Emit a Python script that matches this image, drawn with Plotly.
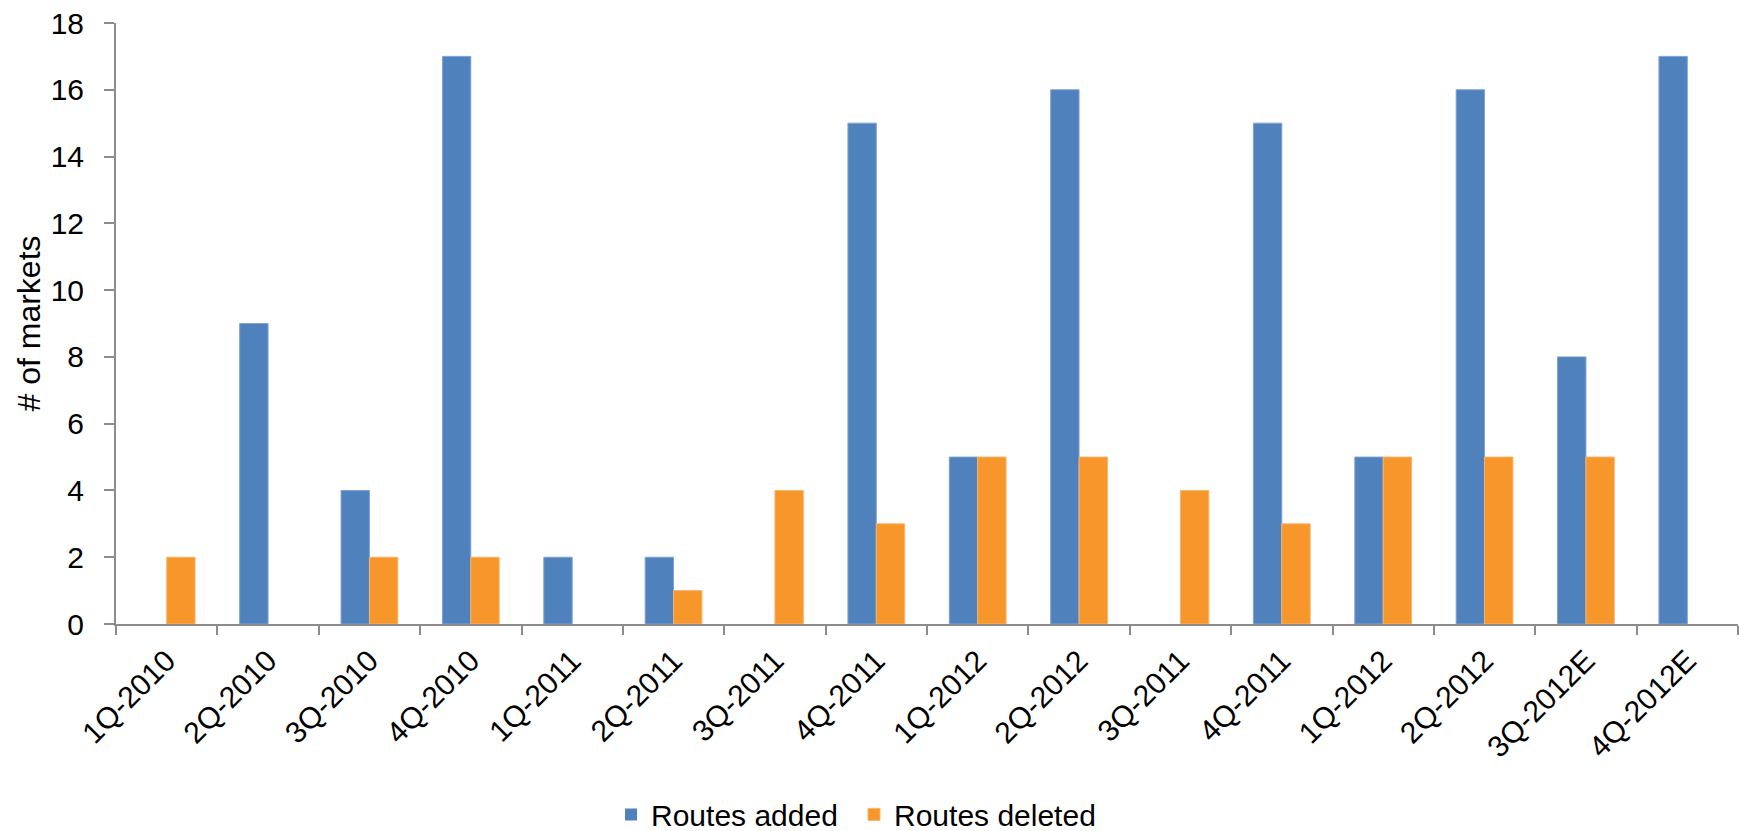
import plotly.graph_objects as go

categories = ["1Q-2010", "2Q-2010", "3Q-2010", "4Q-2010", "1Q-2011", "2Q-2011",
              "3Q-2011", "4Q-2011", "1Q-2012", "2Q-2012", "3Q-2011", "4Q-2011",
              "1Q-2012", "2Q-2012", "3Q-2012E", "4Q-2012E"]
routes_added = [0, 9, 4, 17, 2, 2, 0, 15, 5, 16, 0, 15, 5, 16, 8, 17]
routes_deleted = [2, 0, 2, 2, 0, 1, 4, 3, 5, 5, 4, 3, 5, 5, 5, 0]
y_ticks = [0, 2, 4, 6, 8, 10, 12, 14, 16, 18]

xpos = list(range(len(categories)))
boundaries = [i - 0.5 for i in range(len(categories) + 1)]

FONT = "Liberation Sans, Arial, sans-serif"
AXIS_COLOR = "#8c8c8c"


def edge_widths(vals):
    return [0 if v == 0 else 1 for v in vals]


fig = go.Figure()
fig.add_trace(go.Bar(x=xpos, y=routes_added, name="Routes added",
                     marker=dict(color="#4F81BD",
                                 line=dict(color="#7fa3d3", width=edge_widths(routes_added)))))
fig.add_trace(go.Bar(x=xpos, y=routes_deleted, name="Routes deleted",
                     marker=dict(color="#F7962B",
                                 line=dict(color="#f9b56a", width=edge_widths(routes_deleted)))))

fig.update_layout(
    width=1739, height=831,
    margin=dict(l=116, r=1, t=23, b=207, autoexpand=False),
    barmode="group", bargap=0.44, bargroupgap=0,
    plot_bgcolor="white", paper_bgcolor="white",
    font=dict(family=FONT, size=30, color="#000000"),
    showlegend=True,
    legend=dict(orientation="h", x=0.455, xanchor="center", xref="paper",
                y=0.02, yanchor="middle", yref="container", font=dict(size=30),
                itemwidth=30, tracegroupgap=0, entrywidth=198),
)
fig.update_xaxes(
    range=[-0.5, len(categories) - 0.5], automargin=False,
    tickmode="array", tickvals=xpos, ticktext=categories,
    tickangle=-45, ticks="", showgrid=False, zeroline=False,
    showline=True, linecolor=AXIS_COLOR, linewidth=2,
    tickfont=dict(size=30, color="#000000"),
    ticklabelstandoff=5,
    minor=dict(tickmode="array", tickvals=boundaries, ticks="outside",
               ticklen=9, tickwidth=2, tickcolor=AXIS_COLOR, showgrid=False),
)
fig.update_yaxes(
    range=[0, 18], tickmode="array", tickvals=y_ticks, automargin=False,
    ticks="outside", ticklen=10, tickwidth=2, tickcolor=AXIS_COLOR,
    showgrid=False, zeroline=False,
    showline=True, linecolor=AXIS_COLOR, linewidth=2,
    tickfont=dict(size=30, color="#000000"),
    ticklabelstandoff=14,
    title=dict(text="# of markets", font=dict(size=32, color="#000000"), standoff=0),
)

fig.write_html("out.html")
